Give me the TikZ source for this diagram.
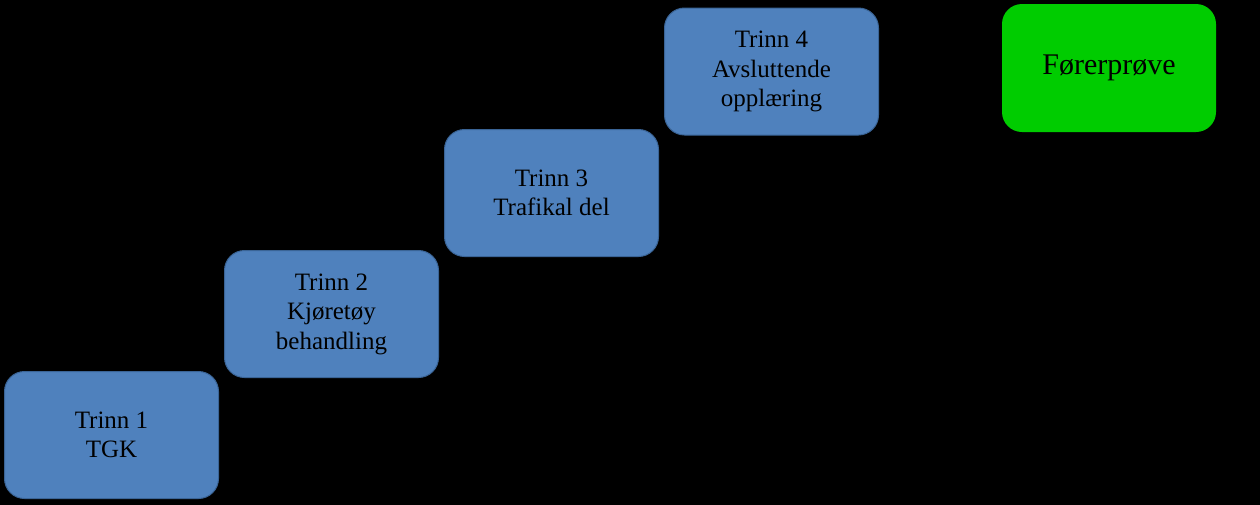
\documentclass[tikz,border=0pt]{standalone}
\usepackage{fontspec}
\setmainfont{Liberation Serif}
\definecolor{stepblue}{HTML}{4F81BD}
\definecolor{stepedge}{HTML}{3A6496}
\definecolor{goalgreen}{HTML}{00CC00}
\begin{document}
\begin{tikzpicture}[x=1pt,y=-1pt,
  stepbox/.style={draw=stepedge, line width=1pt, fill=stepblue, rounded corners=20pt,
    minimum width=214pt, minimum height=127pt, align=center, inner sep=0pt,
    font=\fontsize{25pt}{29.5pt}\selectfont, text=black},
  goalbox/.style={fill=goalgreen, rounded corners=20pt,
    minimum width=214pt, minimum height=128pt, align=center, inner sep=0pt,
    font=\fontsize{30pt}{35pt}\selectfont, text=black}]
\useasboundingbox (0,0) rectangle (1260,504);
\fill[black] (-3,-3) rectangle (1263,507);
\node[stepbox] (s1) at (111.5,435) {Trinn 1\\TGK};
\node[stepbox] (s2) at (331.5,314) {Trinn 2\\Kjøretøy\\behandling};
\node[stepbox] (s3) at (551.5,193) {Trinn 3\\Trafikal del};
\node[stepbox] (s4) at (771.5,71.5) {Trinn 4\\Avsluttende\\opplæring};
\node[goalbox] (g) at (1109,68) {Førerprøve};
\end{tikzpicture}
\end{document}
